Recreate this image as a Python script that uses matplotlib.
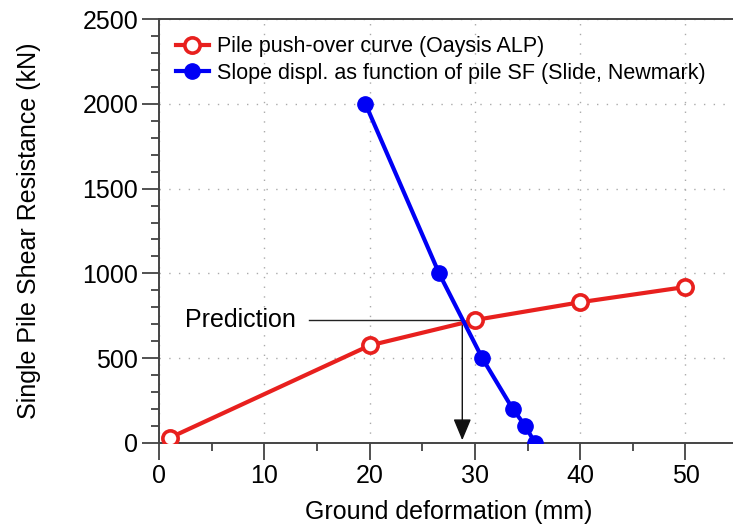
import matplotlib
matplotlib.use("Agg")
import matplotlib.pyplot as plt
from matplotlib.ticker import MultipleLocator

plt.rcParams["font.family"] = ["Liberation Sans", "DejaVu Sans"]

# --- data ---
pile_x = [1, 20, 30, 40, 50]
pile_y = [30, 575, 725, 830, 920]

slope_x = [19.6, 26.6, 30.7, 33.6, 34.8, 35.7]
slope_y = [2000, 1000, 500, 200, 100, 0]

pred_x = 28.8
pred_y = 725
pred_text_x = 2.5

fig = plt.figure(figsize=(7.33, 5.28), dpi=100)
ax = fig.add_axes([0.217, 0.161, 0.79, 0.803])

ax.plot(pile_x, pile_y, color="#e8201e", lw=3, marker="o", ms=11,
        mfc="white", mec="#e8201e", mew=2.6, zorder=4,
        label="Pile push-over curve (Oaysis ALP)")
ax.plot(slope_x, slope_y, color="#0000f5", lw=3, marker="o", ms=11,
        mfc="#0000f5", mec="#0000f5", zorder=4,
        label="Slope displ. as function of pile SF (Slide, Newmark)")

# prediction marker
ax.text(pred_text_x, pred_y, "Prediction", fontsize=18, va="center", ha="left")
ax.plot([14.2, pred_x], [pred_y, pred_y], color="#222222", lw=1, zorder=3)
ax.annotate("", xy=(pred_x, 0), xytext=(pred_x, pred_y),
            arrowprops=dict(arrowstyle="-|>,head_length=0.6,head_width=0.25",
                            color="#111111", lw=1, mutation_scale=22), zorder=3)

ax.set_xlim(0, 55)
ax.set_ylim(0, 2500)
ax.xaxis.set_major_locator(MultipleLocator(10))
ax.xaxis.set_minor_locator(MultipleLocator(5))
ax.yaxis.set_major_locator(MultipleLocator(500))
ax.yaxis.set_minor_locator(MultipleLocator(100))

ax.grid(True, which="major", color="#aaaaaa", ls=(0, (1, 6)), lw=1)
ax.tick_params(axis="both", which="major", labelsize=18, length=12,
               width=1.2, color="#333333", direction="out", pad=3)
ax.tick_params(axis="both", which="minor", length=6, width=1.2,
               color="#333333", direction="out")

for side in ("left", "bottom", "top"):
    ax.spines[side].set_color("#444444")
    ax.spines[side].set_linewidth(1.4)
ax.spines["right"].set_visible(False)

ax.set_xlabel("Ground deformation (mm)", fontsize=18, labelpad=9)
ax.set_ylabel("Single Pile Shear Resistance (kN)", fontsize=18, labelpad=30)

ax.legend(loc="upper left", fontsize=15.5, frameon=False,
          bbox_to_anchor=(0.0, 1.0), handlelength=1.5, handletextpad=0.4,
          labelspacing=0.25, borderaxespad=0.4)

fig.savefig("out.png", dpi=100)
